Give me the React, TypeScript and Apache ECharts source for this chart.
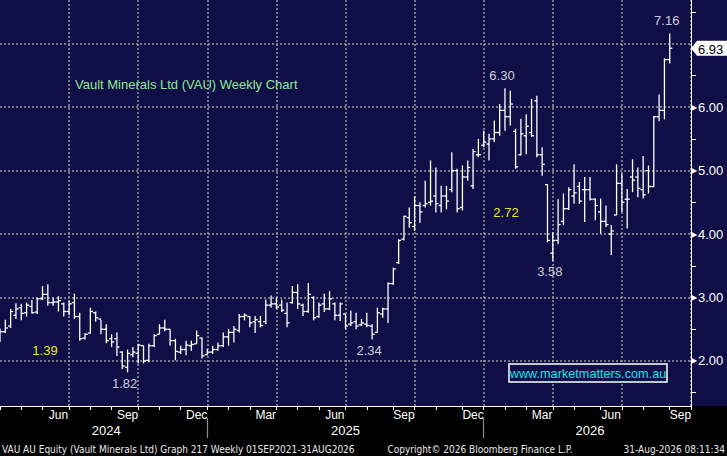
import React, { useEffect, useRef } from 'react';
import * as echarts from 'echarts';

// weekly bars, Monday-dated, first slot = week of 1 Apr 2024
const FIRST_MONDAY = Date.UTC(2024, 3, 1);
const WEEK_SLOTS = 131;
const DAY = 86400000;

const opens = [
  2.33, 2.46, 2.55, 2.72, 2.84, 2.76, 2.86, 2.77, 2.98, 3.05, 2.92, 2.93, 2.9, 2.78, 2.92, 2.7, 2.36, 2.44, 2.76, 2.66,
  2.5, 2.35, 2.35, 2.14, 1.9, 2.1, 2.12, 2.24, 2.01, 2.24, 2.42, 2.52, 2.5, 2.32, 2.14, 2.18, 2.24, 2.27, 2.36, 2.1,
  2.14, 2.18, 2.24, 2.38, 2.45, 2.48, 2.7, 2.7, 2.62, 2.62, 2.62, 2.88, 2.9, 2.88, 2.75, 2.92, 3.08, 2.88, 2.78, 3.0,
  2.7, 2.9, 2.82, 2.9, 2.72, 2.74, 2.58, 2.62, 2.57, 2.58, 2.55, 2.45, 2.74, 2.82, 3.22, 3.55, 3.92, 4.26, 4.12, 4.45,
  4.45, 4.5, 4.6, 4.45, 4.6, 4.7, 5.0, 4.42, 4.9, 4.76, 5.25, 5.4, 5.42, 5.5, 5.6, 5.95, 5.85, 5.62, 5.25, 5.55,
  5.6, 6.1, 5.25, 4.78, 3.7, 3.9, 4.2, 4.4, 4.6, 4.75, 4.7, 4.7, 4.55, 4.35, 4.2, 4.0, 4.3, 4.8, 4.55, 4.9,
  4.9, 4.7, 5.0, 4.75, 5.85, 5.95, 6.75,
];
const closes = [
  2.46, 2.52, 2.78, 2.82, 2.75, 2.88, 2.76, 2.98, 3.05, 2.92, 2.93, 2.95, 2.78, 2.9, 2.7, 2.35, 2.42, 2.78, 2.68, 2.5,
  2.32, 2.3, 2.22, 1.92, 2.12, 2.14, 2.25, 2.0, 2.24, 2.4, 2.52, 2.5, 2.32, 2.15, 2.18, 2.25, 2.26, 2.4, 2.08, 2.14,
  2.18, 2.24, 2.38, 2.45, 2.5, 2.7, 2.72, 2.6, 2.65, 2.56, 2.88, 2.9, 2.85, 2.8, 2.6, 3.08, 2.9, 2.78, 3.05, 2.68,
  2.88, 2.82, 2.98, 2.72, 2.9, 2.55, 2.6, 2.55, 2.6, 2.56, 2.42, 2.76, 2.82, 3.22, 3.45, 3.9, 4.28, 4.18, 4.45, 4.35,
  4.48, 4.52, 4.48, 4.6, 4.52, 5.0, 4.4, 4.9, 5.05, 5.3, 5.25, 5.45, 5.5, 5.6, 5.95, 5.85, 6.05, 5.06, 5.58, 5.7,
  5.55, 5.25, 5.1, 3.9, 3.9, 4.15, 4.4, 4.7, 4.65, 4.52, 4.7, 4.55, 4.45, 4.2, 4.15, 4.05, 4.8, 4.5, 4.55, 4.85,
  4.72, 4.62, 4.75, 5.85, 5.95, 6.75, 6.93,
];
const lows = [
  2.3, 2.44, 2.52, 2.66, 2.64, 2.7, 2.75, 2.74, 2.96, 2.87, 2.87, 2.78, 2.7, 2.72, 2.66, 2.32, 2.34, 2.43, 2.62, 2.42,
  2.28, 2.22, 2.08, 1.87, 1.82, 2.06, 1.96, 1.96, 1.98, 2.22, 2.42, 2.47, 2.24, 2.01, 2.11, 2.09, 2.16, 2.27, 2.04, 2.09,
  2.11, 2.16, 2.22, 2.24, 2.29, 2.45, 2.64, 2.53, 2.44, 2.53, 2.58, 2.84, 2.82, 2.77, 2.53, 2.9, 2.82, 2.71, 2.76, 2.64,
  2.68, 2.77, 2.8, 2.64, 2.63, 2.5, 2.55, 2.5, 2.55, 2.53, 2.34, 2.45, 2.68, 2.6, 3.2, 3.53, 3.9, 4.1, 4.05, 4.18,
  4.42, 4.45, 4.34, 4.34, 4.39, 4.66, 4.34, 4.37, 4.84, 4.71, 5.21, 5.37, 5.16, 5.45, 5.55, 5.63, 5.71, 5.03, 5.24, 5.26,
  5.53, 5.21, 4.92, 3.87, 3.58, 3.84, 4.14, 4.38, 4.48, 4.48, 4.19, 4.53, 4.22, 4.01, 4.11, 3.67, 4.3, 4.35, 4.09, 4.66,
  4.58, 4.56, 4.64, 4.74, 5.78, 5.81, 6.69,
];
const highs = [
  2.51, 2.65, 2.82, 2.91, 2.9, 2.92, 2.96, 3.0, 3.18, 3.21, 3.0, 3.02, 2.92, 2.95, 3.06, 2.76, 2.44, 2.84, 2.78, 2.65,
  2.58, 2.42, 2.45, 2.15, 2.18, 2.22, 2.27, 2.24, 2.27, 2.42, 2.58, 2.65, 2.5, 2.35, 2.24, 2.32, 2.32, 2.48, 2.37, 2.19,
  2.24, 2.29, 2.45, 2.5, 2.55, 2.74, 2.75, 2.71, 2.71, 2.71, 2.97, 3.03, 3.0, 2.97, 2.92, 3.18, 3.21, 2.9, 3.23, 3.02,
  2.92, 3.06, 3.1, 2.92, 2.92, 2.74, 2.79, 2.76, 2.66, 2.76, 2.58, 2.84, 2.84, 3.24, 3.47, 3.92, 4.29, 4.42, 4.6, 4.5,
  4.84, 5.16, 5.05, 4.76, 4.76, 5.29, 5.03, 5.08, 5.16, 5.34, 5.5, 5.63, 5.58, 5.79, 6.05, 6.3, 6.26, 5.66, 5.82, 5.89,
  6.13, 6.18, 5.37, 4.79, 4.03, 4.55, 4.64, 4.74, 5.1, 4.82, 4.9, 4.9, 4.56, 4.56, 4.45, 4.14, 5.1, 4.95, 4.71, 5.18,
  5.05, 5.23, 5.08, 5.86, 6.2, 6.77, 7.16,
];

// [week index, price] of the printed highs and lows
const highNotes = [[126, 7.16], [95, 6.3]];
const lowNotes = [[70, 2.34], [24, 1.82], [104, 3.58]];
const LAST_PRICE = 6.93;

const GRID_PRICES = [2, 3, 4, 5, 6, 7];
const LABEL_PRICES = [2, 3, 4, 5, 6];
const MINOR_PRICES = [1.5, 2.5, 3.5, 4.5, 5.5, 6.5, 7.5];
const MONTH_NAMES = ['Jan', 'Feb', 'Mar', 'Apr', 'May', 'Jun', 'Jul', 'Aug', 'Sep', 'Oct', 'Nov', 'Dec'];

const TITLE = 'Vault Minerals Ltd (VAU) Weekly Chart';
const SITE = 'www.marketmatters.com.au';
const YELLOW_NOTES = ['1.39', '2.72'];
const FOOTER_LEFT = 'VAU AU Equity (Vault Minerals Ltd) Graph 217 Weekly 01SEP2021-31AUG2026';
const FOOTER_MID = 'Copyright\u00a9 2026 Bloomberg Finance L.P.';
const FOOTER_RIGHT = '31-Aug-2026 08:11:34';

const NAVY = '#0f0e46';
const FONT = '"Liberation Sans", Arial, sans-serif';
const NARROW = '"Liberation Sans Narrow", "Arial Narrow", "DejaVu Sans Condensed", sans-serif';

const weekStarts = Array.from({ length: WEEK_SLOTS }, (_, i) => new Date(FIRST_MONDAY + i * 7 * DAY));
const categories = weekStarts.map((d) => d.toISOString().slice(0, 10));

// month whose 1st falls in this week, or -1
const monthStartIn = (i: number) => {
  const d = weekStarts[i];
  const end = new Date(d.getTime() + 6 * DAY);
  if (d.getUTCDate() === 1) return d.getUTCMonth();
  if (end.getUTCMonth() !== d.getUTCMonth()) return end.getUTCMonth();
  return -1;
};
const isMonthTick = (i: number) => monthStartIn(i) >= 0;
const isQuarterLine = (i: number) => i > 0 && [0, 3, 6, 9].includes(monthStartIn(i));
const isYearStart = (i: number) => i > 0 && monthStartIn(i) === 0;
const isMonthLabel = (i: number) => {
  const d = weekStarts[i];
  return [2, 5, 8, 11].includes(d.getUTCMonth()) && d.getUTCDate() >= 14 && d.getUTCDate() <= 20;
};

// year label sits in the middle of the visible part of each year
const yearBreaks = [0, ...categories.map((_, i) => i).filter(isYearStart), WEEK_SLOTS - 1];
const yearLabelAt: Record<number, string> = {};
for (let k = 0; k < yearBreaks.length - 1; k++) {
  const mid = Math.round((yearBreaks[k] + yearBreaks[k + 1]) / 2);
  yearLabelAt[mid] = String(weekStarts[mid].getUTCFullYear());
}

const App: React.FC = () => {
  const chartRef = useRef<HTMLDivElement>(null);

  useEffect(() => {
    if (!chartRef.current) return;
    const chart = echarts.init(chartRef.current, undefined, { renderer: 'svg' });

    const bars = opens.map((o, i) => [i, o, closes[i], lows[i], highs[i]]);
    const gridLine = { color: '#9a9a9a', type: [2, 2] as number[], width: 1.5 };

    const option = {
      animation: false,
      backgroundColor: 'transparent',
      textStyle: { fontFamily: FONT },
      grid: { left: 0, right: 36, top: 0, bottom: 50, outerBoundsMode: 'none' },
      xAxis: [
        {
          type: 'category',
          data: categories,
          boundaryGap: false,
          axisLine: { lineStyle: { color: '#fff', width: 1 } },
          axisTick: { interval: (i: number) => isMonthTick(i), length: 4, lineStyle: { color: '#fff' } },
          axisLabel: {
            interval: (i: number) => isMonthLabel(i),
            formatter: (v: string) => MONTH_NAMES[Number(v.slice(5, 7)) - 1],
            color: '#fff',
            fontSize: 12,
            margin: 3,
          },
          splitLine: { show: true, interval: (i: number) => isQuarterLine(i), lineStyle: gridLine },
        },
        {
          type: 'category',
          data: categories,
          boundaryGap: false,
          position: 'bottom',
          offset: 12,
          axisLine: { show: false },
          axisTick: { interval: (i: number) => isYearStart(i), length: 20, lineStyle: { color: '#8c8c8c', width: 1.2 } },
          axisLabel: {
            interval: (i: number) => yearLabelAt[i] !== undefined,
            formatter: (_v: string, i: number) => yearLabelAt[i] ?? '',
            color: '#fff',
            fontSize: 13,
            margin: 6,
          },
          splitLine: { show: false },
        },
      ],
      yAxis: {
        type: 'value',
        position: 'right',
        min: 1.29,
        max: 7.69,
        axisLine: { show: true, lineStyle: { color: '#fff', width: 1 } },
        axisTick: { show: true, customValues: MINOR_PRICES, length: 5, lineStyle: { color: '#fff' } },
        axisLabel: {
          customValues: LABEL_PRICES,
          formatter: (v: number) => `{t|\u25b6}${v.toFixed(2)}`,
          color: '#fff',
          fontSize: 13,
          margin: 0,
          rich: { t: { fontSize: 8, color: '#fff', padding: [0, 1, 0, 0] } },
        },
        splitLine: { show: false },
      },
      series: [
        {
          type: 'custom',
          z: 3,
          data: bars,
          encode: { x: 0, y: [1, 2, 3, 4] },
          renderItem: (_params: any, api: any) => {
            const i = api.value(0);
            const top = api.coord([i, api.value(4)]);
            const bottom = api.coord([i, api.value(3)]);
            const open = api.coord([i, api.value(1)]);
            const close = api.coord([i, api.value(2)]);
            const style = { stroke: '#fff', lineWidth: 1.3 };
            return {
              type: 'group',
              children: [
                { type: 'line', shape: { x1: top[0], y1: top[1], x2: bottom[0], y2: bottom[1] }, style },
                { type: 'line', shape: { x1: open[0] - 2.6, y1: open[1], x2: open[0], y2: open[1] }, style },
                { type: 'line', shape: { x1: close[0], y1: close[1], x2: close[0] + 2.6, y2: close[1] }, style },
              ],
            };
          },
        },
        {
          type: 'scatter',
          z: 4,
          symbolSize: 1,
          itemStyle: { color: 'rgba(0,0,0,0)' },
          silent: true,
          label: {
            show: true,
            color: '#ffffff',
            fontSize: 13,
            offset: [-3, 0],
            formatter: (p: any) => p.value[1].toFixed(2),
          },
          data: [
            ...highNotes.map((v) => ({ value: v, label: { position: 'top', distance: 6 } })),
            ...lowNotes.map((v) => ({ value: v, label: { position: 'bottom', distance: 4 } })),
          ],
          markLine: {
            silent: true,
            z: 1,
            symbol: ['none', 'none'],
            label: { show: false },
            lineStyle: gridLine,
            data: GRID_PRICES.map((v) => ({ yAxis: v })),
          },
        },
      ],
    };

    chart.setOption(option);

    const tagY = chart.convertToPixel({ yAxisIndex: 0 }, LAST_PRICE) as number;
    const axisX = 691;
    chart.setOption({
      graphic: [
        {
          type: 'text',
          x: 75,
          y: 84,
          style: { text: TITLE, fill: '#8fe98f', font: `13px ${FONT}`, verticalAlign: 'middle' },
        },
        {
          type: 'rect',
          shape: { x: 509, y: 364, width: 158, height: 18 },
          style: { fill: NAVY, stroke: '#fff', lineWidth: 1.5 },
        },
        {
          type: 'text',
          x: 588,
          y: 373.5,
          style: { text: SITE, fill: '#19e3e6', font: `12.7px ${FONT}`, align: 'center', verticalAlign: 'middle' },
        },
        {
          type: 'text',
          x: 45,
          y: 350,
          style: { text: YELLOW_NOTES[0], fill: '#eaea1e', font: `13px ${FONT}`, align: 'center', verticalAlign: 'middle' },
        },
        {
          type: 'text',
          x: 506,
          y: 212,
          style: { text: YELLOW_NOTES[1], fill: '#eaea1e', font: `13px ${FONT}`, align: 'center', verticalAlign: 'middle' },
        },
        {
          type: 'polygon',
          shape: {
            points: [
              [axisX, tagY],
              [axisX + 6, tagY - 7.5],
              [727, tagY - 7.5],
              [727, tagY + 7.5],
              [axisX + 6, tagY + 7.5],
            ],
          },
          style: { fill: '#fff' },
        },
        {
          type: 'text',
          x: 698,
          y: tagY + 1,
          style: { text: LAST_PRICE.toFixed(2), fill: '#000', font: `13px ${FONT}`, verticalAlign: 'middle' },
        },
        {
          type: 'text',
          x: 2,
          y: 449,
          style: { text: FOOTER_LEFT, fill: '#e8e8e8', font: `10px ${NARROW}`, verticalAlign: 'middle' },
        },
        {
          type: 'text',
          x: 480,
          y: 449,
          style: { text: FOOTER_MID, fill: '#e8e8e8', font: `10px ${NARROW}`, align: 'center', verticalAlign: 'middle' },
        },
        {
          type: 'text',
          x: 725,
          y: 449,
          style: { text: FOOTER_RIGHT, fill: '#e8e8e8', font: `10px ${NARROW}`, align: 'right', verticalAlign: 'middle' },
        },
      ],
    });

    return () => {
      chart.dispose();
    };
  }, []);

  return (
    <div
      ref={chartRef}
      style={{
        position: 'fixed',
        left: 0,
        top: 0,
        width: '727px',
        height: '456px',
        background: `linear-gradient(to bottom, ${NAVY} 0px, ${NAVY} 406px, #000 406px, #000 456px)`,
      }}
    />
  );
};

export default App;
